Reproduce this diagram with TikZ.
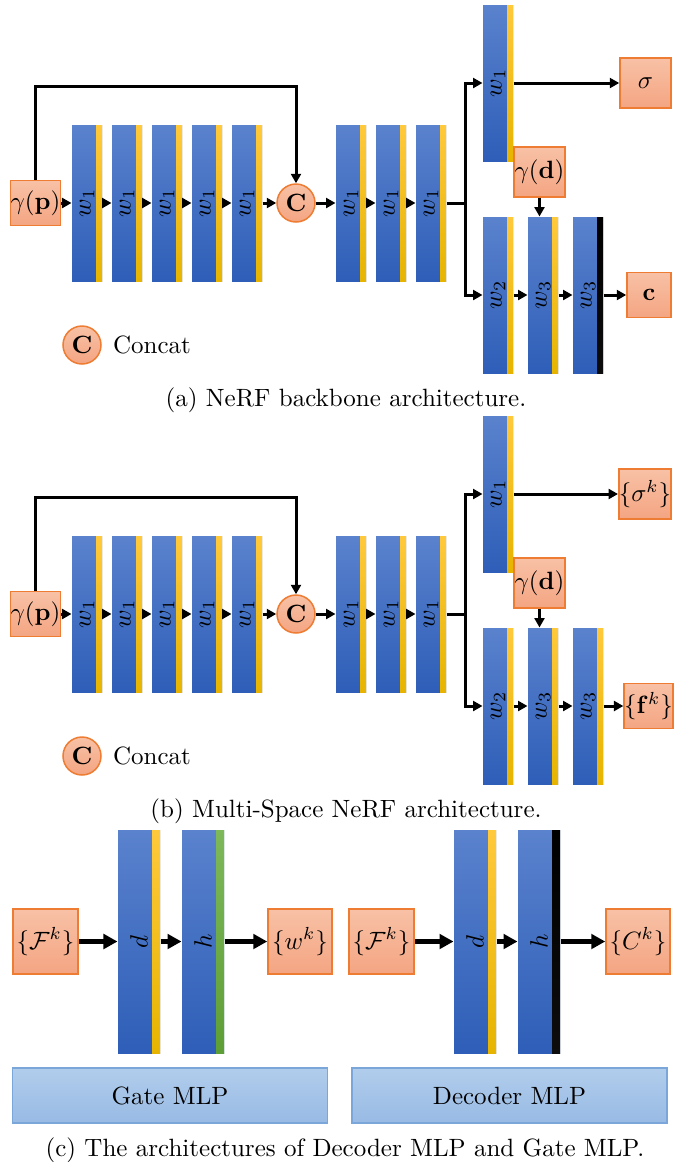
\documentclass[tikz,border=0pt]{standalone}
\usepackage{amsmath}
\usepackage{graphicx}
\usetikzlibrary{arrows.meta, positioning, calc}

\definecolor{blueTop}{HTML}{5A82CD}
\definecolor{blueBot}{HTML}{2E5EB8}
\definecolor{yelTop}{HTML}{FFC93C}
\definecolor{yelBot}{HTML}{E6B400}
\definecolor{grnTop}{HTML}{7DB85A}
\definecolor{grnBot}{HTML}{5E9E36}
\definecolor{ioTop}{HTML}{F8C1A6}
\definecolor{ioBot}{HTML}{F4A582}
\definecolor{ioEdge}{HTML}{EE7D33}
\definecolor{mlpTop}{HTML}{B1CDEC}
\definecolor{mlpBot}{HTML}{98BAE4}
\definecolor{mlpEdge}{HTML}{7AA6DA}

% rotated layer label, kept clear of the coloured edge
\newcommand{\lay}[2][2.4pt]{\rotatebox{90}{$#2$}\hspace{#1}}

\begin{document}
\begin{tikzpicture}[
    x=0.4pt, y=-0.4pt,
    node distance=3.6pt,
    layer/.style={rectangle, inner sep=0pt, minimum width=12pt, minimum height=62.4pt, top color=blueTop, bottom color=blueBot},
    biglayer/.style={layer, minimum width=16.8pt, minimum height=89.2pt},
    stripe/.style n args={3}{path picture={\shade[top color=#1, bottom color=#2] ([xshift=-#3]path picture bounding box.north east) rectangle (path picture bounding box.south east);}},
    ystripe/.style={stripe={yelTop}{yelBot}{#1}}, ystripe/.default=2.4pt,
    gstripe/.style={stripe={grnTop}{grnBot}{#1}}, gstripe/.default=2.4pt,
    kstripe/.style={stripe={black}{black!95}{#1}}, kstripe/.default=2.4pt,
    io/.style={rectangle, draw=ioEdge, line width=0.6pt, top color=ioTop, bottom color=ioBot, inner sep=0pt},
    cat/.style={circle, draw=ioEdge, line width=0.6pt, top color=ioTop, bottom color=ioBot, minimum size=15.2pt, inner sep=0pt},
    mlp/.style={rectangle, draw=mlpEdge, line width=0.6pt, top color=mlpTop, bottom color=mlpBot, minimum width=126pt, minimum height=22pt},
    arrow/.style={-{Triangle[length=3.8pt, width=4pt]}, line width=1.2pt},
    link/.style={line width=1.2pt},
    fat/.style={-{Triangle[length=5.6pt, width=5.8pt]}, line width=2pt}
]
\useasboundingbox (0,0) rectangle (692,1162);

% (a) backbone
\node[io, minimum size=18pt] (agp) at (35.5,203) {$\gamma(\mathbf{p})$};
\node[layer, ystripe] (a1) at (87,203) {\lay{w_1}};
\node[layer, ystripe, right=of a1] (a2) {\lay{w_1}};
\node[layer, ystripe, right=of a2] (a3) {\lay{w_1}};
\node[layer, ystripe, right=of a3] (a4) {\lay{w_1}};
\node[layer, ystripe, right=of a4] (a5) {\lay{w_1}};
\node[cat] (acat) at (296,203) {$\mathbf{C}$};
\node[layer, ystripe] (a6) at (351,203) {\lay{w_1}};
\node[layer, ystripe, right=of a6] (a7) {\lay{w_1}};
\node[layer, ystripe, right=of a7] (a8) {\lay{w_1}};
\coordinate[right=7.6pt of a8] (asplit);
\node[layer, ystripe] (a9) at (498,83) {\lay{w_1}};
\node[layer, ystripe] (a10) at (498,295) {\lay{w_2}};
\node[layer, ystripe, right=5.6pt of a10] (a11) {\lay{w_3}};
\node[layer, kstripe, right=5.6pt of a11] (a12) {\lay{w_3}};
\node[io, minimum width=17.6pt, minimum height=18pt] (ac) at (649,295) {$\mathbf{c}$};
\node[io, minimum width=20.4pt, minimum height=20pt] (asig) at (645.5,83) {$\sigma$};
\node[io, minimum width=20.4pt, minimum height=20pt] (agd) at (539.5,172) {$\gamma(\mathbf{d})$};

\draw[arrow] (agp) -- (a1);
\draw[arrow] (a1) -- (a2);
\draw[arrow] (a2) -- (a3);
\draw[arrow] (a3) -- (a4);
\draw[arrow] (a4) -- (a5);
\draw[arrow] (a5) -- (acat);
\draw[arrow] (acat) -- (a6);
\draw[arrow] (a6) -- (a7);
\draw[arrow] (a7) -- (a8);
\draw[arrow] (agp.north) -- ++(0,-93) -| (acat.north);
\draw[link] (a8) -- (asplit);
\draw[arrow] (asplit) |- (a9);
\draw[arrow] (asplit) |- (a10);
\draw[arrow] (a9) -- (asig);
\draw[arrow] (a10) -- (a11);
\draw[arrow] (a11) -- (a12);
\draw[arrow] (a12) -- (ac);
\draw[arrow] (agd) -- (agd |- a11.north);

\node[cat] (aleg) at (82,345) {$\mathbf{C}$};
\node[right=1pt of aleg] (alegtext) {Concat};
\node (acap) at (346,400) {(a) NeRF backbone architecture.};

% (b) multi-space
\begin{scope}[shift={(0,411)}]
\node[io, minimum size=18pt] (bgp) at (35.5,203) {$\gamma(\mathbf{p})$};
\node[layer, ystripe] (b1) at (87,203) {\lay{w_1}};
\node[layer, ystripe, right=of b1] (b2) {\lay{w_1}};
\node[layer, ystripe, right=of b2] (b3) {\lay{w_1}};
\node[layer, ystripe, right=of b3] (b4) {\lay{w_1}};
\node[layer, ystripe, right=of b4] (b5) {\lay{w_1}};
\node[cat] (bcat) at (296,203) {$\mathbf{C}$};
\node[layer, ystripe] (b6) at (351,203) {\lay{w_1}};
\node[layer, ystripe, right=of b6] (b7) {\lay{w_1}};
\node[layer, ystripe, right=of b7] (b8) {\lay{w_1}};
\coordinate[right=7.6pt of b8] (bsplit);
\node[layer, ystripe] (b9) at (498,83) {\lay{w_1}};
\node[layer, ystripe] (b10) at (498,295) {\lay{w_2}};
\node[layer, ystripe, right=5.6pt of b10] (b11) {\lay{w_3}};
\node[layer, ystripe, right=5.6pt of b11] (b12) {\lay{w_3}};
\node[io, minimum size=18pt] (bf) at (648.5,295) {$\{\mathbf{f}^k\}$};
\node[io, minimum size=20pt] (bsig) at (645,83) {$\{\sigma^k\}$};
\node[io, minimum width=20.4pt, minimum height=20pt] (bgd) at (539.5,172) {$\gamma(\mathbf{d})$};

\draw[arrow] (bgp) -- (b1);
\draw[arrow] (b1) -- (b2);
\draw[arrow] (b2) -- (b3);
\draw[arrow] (b3) -- (b4);
\draw[arrow] (b4) -- (b5);
\draw[arrow] (b5) -- (bcat);
\draw[arrow] (bcat) -- (b6);
\draw[arrow] (b6) -- (b7);
\draw[arrow] (b7) -- (b8);
\draw[arrow] (bgp.north) -- ++(0,-93) -| (bcat.north);
\draw[link] (b8) -- (bsplit);
\draw[arrow] (bsplit) |- (b9);
\draw[arrow] (bsplit) |- (b10);
\draw[arrow] (b9) -- (bsig);
\draw[arrow] (b10) -- (b11);
\draw[arrow] (b11) -- (b12);
\draw[arrow] (b12) -- (bf);
\draw[arrow] (bgd) -- (bgd |- b11.north);

\node[cat] (bleg) at (82,345) {$\mathbf{C}$};
\node[right=1pt of bleg] (blegtext) {Concat};
\node (bcap) at (346,400) {(b) Multi-Space NeRF architecture.};
\end{scope}

% (c) gate and decoder
\node[io, minimum size=26pt] (gin) at (45.5,941.5) {$\{\mathcal{F}^k\}$};
\node[biglayer, ystripe=3.2pt] (gd) at (139,941.5) {\lay[3.2pt]{d}};
\node[biglayer, gstripe=3.2pt, right=8.4pt of gd] (gh) {\lay[3.2pt]{h}};
\node[io, minimum width=25.6pt, minimum height=26pt] (gout) at (300,941.5) {$\{w^k\}$};
\node[io, minimum size=26pt] (din) at (381.5,941.5) {$\{\mathcal{F}^k\}$};
\node[biglayer, ystripe=3.2pt] (dd) at (475,941.5) {\lay[3.2pt]{d}};
\node[biglayer, kstripe=3.2pt, right=8.4pt of dd] (dh) {\lay[3.2pt]{h}};
\node[io, minimum width=25.6pt, minimum height=26pt] (dout) at (638,941.5) {$\{C^k\}$};

\draw[fat] (gin) -- (gd);
\draw[fat] (gd) -- (gh);
\draw[fat] (gh) -- (gout);
\draw[fat] (din) -- (dd);
\draw[fat] (dd) -- (dh);
\draw[fat] (dh) -- (dout);

\node[mlp] (gate) at (170,1095.5) {Gate MLP};
\node[mlp] (dec) at (509.5,1095.5) {Decoder MLP};
\node (ccap) at (345,1150) {(c) The architectures of Decoder MLP and Gate MLP.};
\end{tikzpicture}
\end{document}
